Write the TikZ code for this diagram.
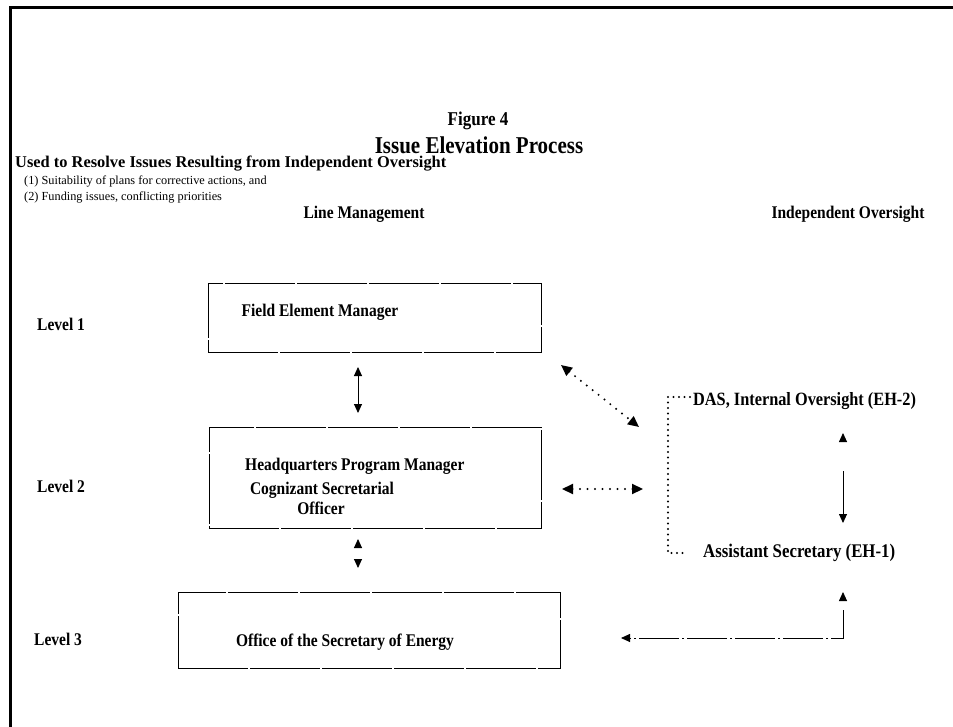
\documentclass[tikz,border=0pt]{standalone}
\usepackage{fontspec}
\setmainfont{Liberation Serif}
\usepackage{graphicx}
\usetikzlibrary{arrows.meta}
\newcommand{\vstr}[1]{\scalebox{1}[1.15]{#1}}
\begin{document}
\begin{tikzpicture}[x=1pt,y=-1pt,
  bt/.style={font=\bfseries\fontsize{15.5}{18}\selectfont, inner sep=0pt},
  rt/.style={font=\fontsize{12.3}{14}\selectfont, inner sep=0pt},
  boxn/.style={draw, line width=0.9pt, dash pattern=on 70pt off 2pt, inner sep=0pt},
  solidarr/.style={line width=0.9pt, {Triangle[length=9pt,width=8pt]}-{Triangle[length=9pt,width=8pt]}},
  headsonly/.style={line width=0.9pt, dash pattern=on 0pt off 200pt, {Triangle[length=9pt,width=8pt]}-{Triangle[length=9pt,width=8pt]}},
  dotarr/.style={line width=2.2pt, line cap=round, dash pattern=on 0pt off 7.5pt, {Triangle[length=11pt,width=10pt]}-{Triangle[length=11pt,width=10pt]}},
  dotline/.style={line width=2.2pt, line cap=round, dash pattern=on 0pt off 5.5pt},
  dashline/.style={line width=0.9pt, dash pattern=on 40pt off 3pt on 2pt off 3pt}
]
\useasboundingbox (0,0) rectangle (953,727);
% frame
\draw[line width=3pt] (953,8) -- (10,8) -- (10,727);

% titles
\node[bt, font=\bfseries\fontsize{17}{20}\selectfont] (fig) at (478,121) {\vstr{Figure 4}};
\node[bt, font=\bfseries\fontsize{21}{24}\selectfont] (title) at (479,145) {\vstr{Issue Elevation Process}};
\node[bt, anchor=west, font=\bfseries\fontsize{16.4}{18}\selectfont] (used) at (15,164) {Used to Resolve Issues Resulting from Independent Oversight};
\node[rt, anchor=west] (p1) at (24,181) {(1) Suitability of plans for corrective actions, and};
\node[rt, anchor=west] (p2) at (24,197) {(2) Funding issues, conflicting priorities};

% column headings
\node[bt] (lm) at (364,214) {\vstr{Line Management}};
\node[bt] (io) at (848,214) {\vstr{Independent Oversight}};

% level labels
\node[bt, anchor=west] (l1) at (37,324) {\vstr{Level 1}};
\node[bt, anchor=west] (l2) at (37,486) {\vstr{Level 2}};
\node[bt, anchor=west] (l3) at (34,639) {\vstr{Level 3}};

% boxes
\node[boxn, minimum width=333pt, minimum height=69pt] (fem) at (374.5,317.5) {};
\node[boxn, minimum width=332pt, minimum height=101pt] (hq) at (375,477.5) {};
\node[boxn, minimum width=382pt, minimum height=76pt] (ose) at (369,630) {};

% box texts
\node[bt] (femt) at (320,312) {\vstr{Field Element Manager}};
\node[bt, anchor=west] (hqt) at (245,466) {\vstr{Headquarters Program Manager}};
\node[bt] (cog) at (322,490) {\vstr{Cognizant Secretarial}};
\node[bt] (off) at (321,508) {\vstr{Officer}};
\node[bt] (oset) at (345,642) {\vstr{Office of the Secretary of Energy}};

% oversight texts
\node[bt, anchor=west, font=\bfseries\fontsize{16.3}{18}\selectfont] (das) at (693,401) {\vstr{DAS, Internal Oversight (EH-2)}};
\node[bt, anchor=west, font=\bfseries\fontsize{16.8}{18}\selectfont] (as) at (703,553) {\vstr{Assistant Secretary (EH-1)}};

% connectors
\coordinate (a1) at (358,367);
\coordinate (a2) at (358,413);
\draw[solidarr] (a1) -- (a2);

\coordinate (b1) at (358,539);
\coordinate (b2) at (358,568);
\draw[headsonly] (b1) -- (b2);

\coordinate (c1) at (561,365);
\coordinate (c2) at (639,427);
\draw[dotarr] (c1) -- (c2);

\coordinate (d1) at (562,489);
\coordinate (d2) at (643,489);
\draw[dotarr] (d1) -- (d2);

\coordinate (e1) at (690,397);
\coordinate (e2) at (668,397);
\coordinate (e3) at (668,553);
\coordinate (e4) at (685,553);
\draw[dotline] (e1) -- (e2) -- (e3) -- (e4);

% EH-1 -> EH-2 link
\coordinate (f0) at (843,433);
\coordinate (f1) at (843,443);
\draw[line width=0.9pt, dash pattern=on 0pt off 100pt, -{Triangle[length=9pt,width=8pt]}] (f1) -- (f0);
\coordinate (f2) at (843,471);
\coordinate (f3) at (843,523);
\draw[line width=0.9pt, -{Triangle[length=9pt,width=8pt]}] (f2) -- (f3);

% EH-1 -> Secretary link
\coordinate (g0) at (843,592);
\coordinate (g1) at (843,602);
\draw[line width=0.9pt, dash pattern=on 0pt off 100pt, -{Triangle[length=9pt,width=8pt]}] (g1) -- (g0);
\coordinate (g2) at (843,610);
\coordinate (g3) at (843,638);
\coordinate (g4) at (621,638);
\draw[dashline, -{Triangle[length=9pt,width=8pt]}] (g2) -- (g3) -- (g4);
\end{tikzpicture}
\end{document}
